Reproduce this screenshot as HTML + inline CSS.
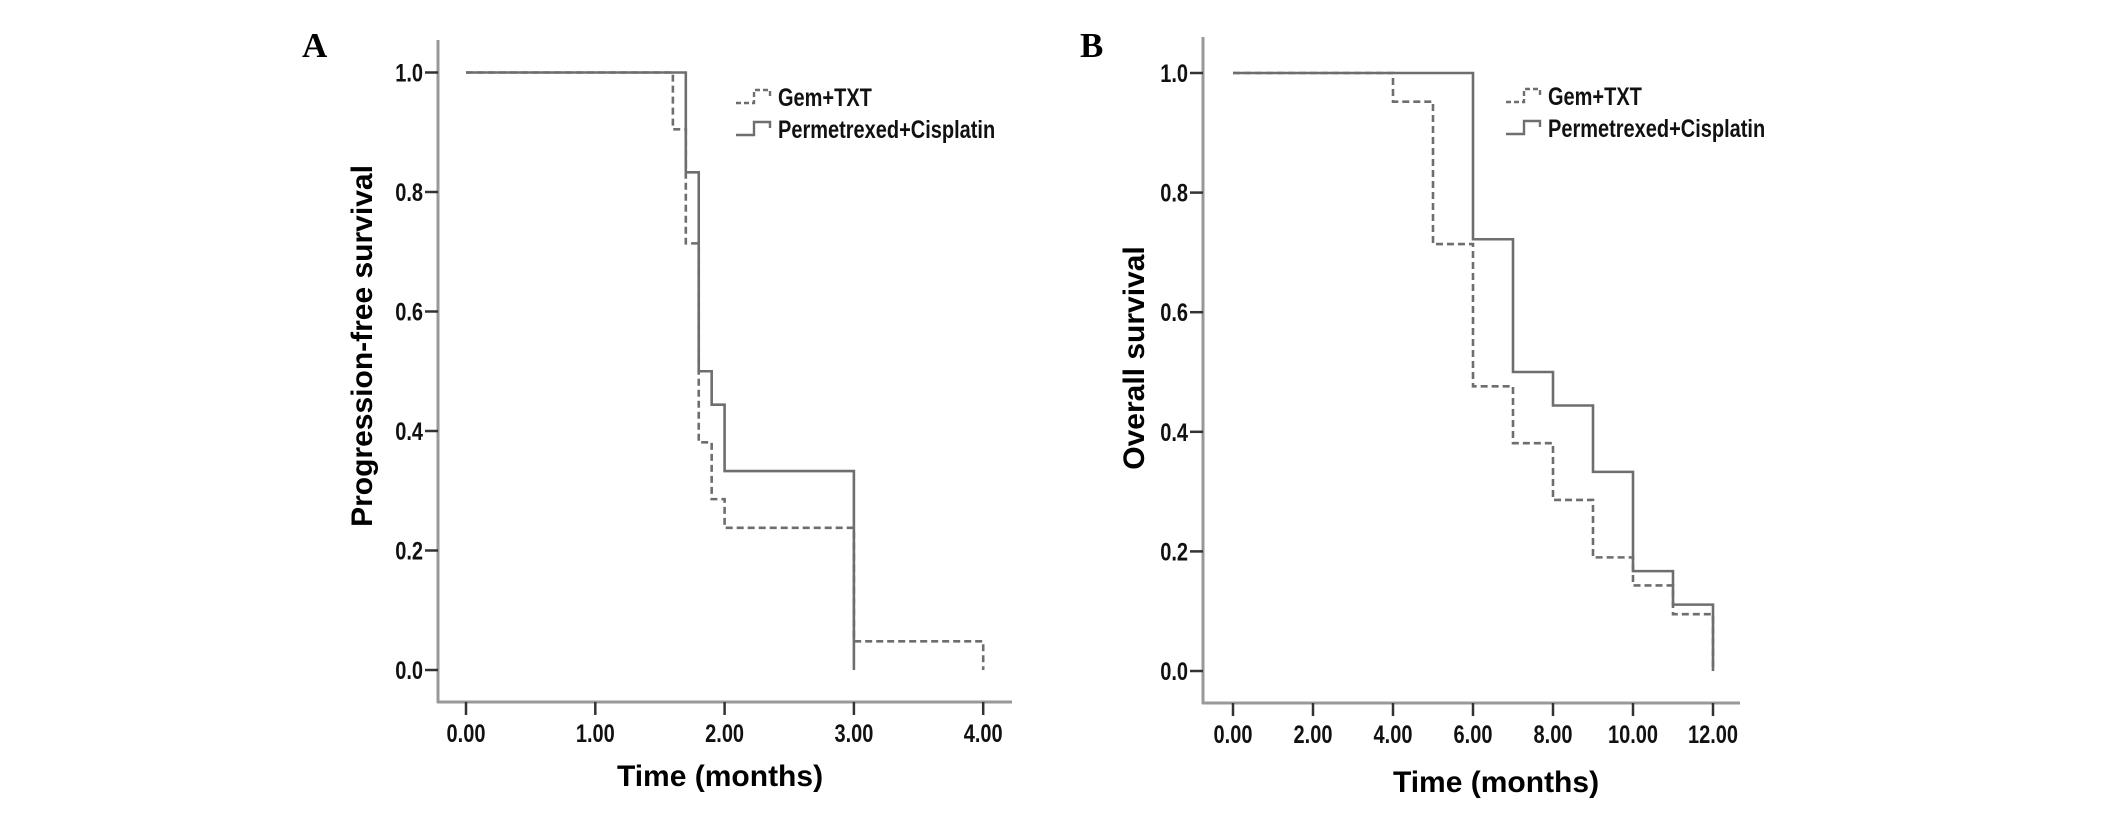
<!DOCTYPE html>
<html><head><meta charset="utf-8"><style>
html,body{margin:0;padding:0;background:#fff;}
svg{display:block;}
</style></head><body>
<svg id="chart" width="2126" height="814" viewBox="0 0 2126 814" xmlns="http://www.w3.org/2000/svg">
<rect width="2126" height="814" fill="#fff"/>
<text x="302" y="57" font-family="Liberation Serif, serif" font-weight="bold" font-size="35">A</text>
<text x="1080" y="57" font-family="Liberation Serif, serif" font-weight="bold" font-size="35">B</text>
<text transform="translate(372,346) rotate(-90)" text-anchor="middle" font-family="Liberation Sans, sans-serif" font-weight="bold" font-size="30">Progression-free survival</text>
<text transform="translate(1144,358) rotate(-90)" text-anchor="middle" font-family="Liberation Sans, sans-serif" font-weight="bold" font-size="30">Overall survival</text>
<text x="720" y="786" text-anchor="middle" font-family="Liberation Sans, sans-serif" font-weight="bold" font-size="30">Time (months)</text>
<text x="1496" y="792" text-anchor="middle" font-family="Liberation Sans, sans-serif" font-weight="bold" font-size="30">Time (months)</text>
</svg>
<script>
// Panel A data (progression-free survival)
const aTicksX = [0, 1, 2, 3, 4];
const aTickLabelsX = ["0.00", "1.00", "2.00", "3.00", "4.00"];
const aGemTimes = [1.6, 1.7, 1.8, 1.9, 2.0, 3.0, 4.0];
const aGemSurv = [0.905, 0.714, 0.381, 0.286, 0.238, 0.048, 0.0];
const aPemTimes = [1.7, 1.8, 1.9, 2.0, 3.0];
const aPemSurv = [0.833, 0.5, 0.444, 0.333, 0.0];
// Panel B data (overall survival)
const bTicksX = [0, 2, 4, 6, 8, 10, 12];
const bTickLabelsX = ["0.00", "2.00", "4.00", "6.00", "8.00", "10.00", "12.00"];
const bGemTimes = [4, 5, 6, 7, 8, 9, 10, 11, 12];
const bGemSurv = [0.952, 0.714, 0.476, 0.381, 0.286, 0.19, 0.143, 0.095, 0.0];
const bPemTimes = [6, 7, 8, 9, 10, 11, 12];
const bPemSurv = [0.722, 0.5, 0.444, 0.333, 0.167, 0.111, 0.0];
const yTicks = [0, 0.2, 0.4, 0.6, 0.8, 1.0];
const yTickLabels = ["0.0", "0.2", "0.4", "0.6", "0.8", "1.0"];
const legendLabels = ["Gem+TXT", "Permetrexed+Cisplatin"];

const NS = "http://www.w3.org/2000/svg";
const svg = document.getElementById("chart");
function mk(tag, attrs) {
  const e = document.createElementNS(NS, tag);
  for (const k in attrs) e.setAttribute(k, attrs[k]);
  svg.appendChild(e);
  return e;
}
function ctext(x, y, s, anchor, name) {
  const t = mk("text", {transform: "translate(" + x + "," + y + ") scale(0.8,1)", "text-anchor": anchor,
    "font-family": "Liberation Sans, sans-serif", "font-weight": "bold", "font-size": "25", fill: "#111"});
  t.textContent = s;
  
  
  return t;
}

function panel(p, cfg) {
  const xs = t => cfg.x0 + (t - cfg.tmin) * cfg.pxPer;
  const ys = v => cfg.y0 - v * cfg.yPer;
  const AX = "#999";
  let e = mk("line", {x1: cfg.axX, y1: cfg.axTop, x2: cfg.axX, y2: cfg.axY + 1, stroke: AX, "stroke-width": 3});
  
  
  e = mk("line", {x1: cfg.axX - 1, y1: cfg.axY, x2: cfg.axRight, y2: cfg.axY, stroke: AX, "stroke-width": 3});
  
  
  yTicks.forEach((v, i) => {
    const l = mk("line", {x1: cfg.axX - 13, y1: ys(v), x2: cfg.axX, y2: ys(v), stroke: "#333", "stroke-width": 2.5});
    
    
    ctext(cfg.axX - 15, ys(v) + 9, yTickLabels[i], "end", "y-tick-label-" + p);
  });
  cfg.ticks.forEach((t, i) => {
    const l = mk("line", {x1: xs(t), y1: cfg.axY, x2: xs(t), y2: cfg.axY + 13, stroke: "#333", "stroke-width": 2.5});
    
    
    ctext(xs(t), cfg.axY + 40, cfg.labels[i], "middle", "x-tick-label-" + p);
  });
  function curve(times, surv, dashed, name) {
    let d = "M" + xs(0) + "," + ys(1);
    let prev = 1;
    times.forEach((t, i) => {
      d += " H" + xs(t) + " V" + ys(surv[i]);
      prev = surv[i];
    });
    const attrs = {d: d, fill: "none", stroke: "#6e6e6e", "stroke-width": 2.6};
    if (dashed) attrs["stroke-dasharray"] = "7,4";
    const c = mk("path", attrs);
    
    
  }
  curve(cfg.pemT, cfg.pemS, false, "curve-permetrexed-cisplatin-" + p);
  curve(cfg.gemT, cfg.gemS, true, "curve-gem-txt-" + p);
  // legend
  [0, 1].forEach(i => {
    const lx = cfg.legX, ly = cfg.legY + i * 32;
    const d = "M" + lx + "," + (ly + 6) + " H" + (lx + 18) + " V" + (ly - 7) + " H" + (lx + 34) + " V" + (ly - 1);
    const attrs = {d: d, fill: "none", stroke: "#6e6e6e", "stroke-width": 2.4};
    if (i === 0) attrs["stroke-dasharray"] = "5,3";
    const ic = mk("path", attrs);
    
    
    ctext(lx + 42, ly + 9, legendLabels[i], "start", "legend-entry-" + p);
  });
}

panel("a", {x0: 466, tmin: 0, pxPer: 129.3, y0: 670, yPer: 597.5, axX: 438, axTop: 40, axY: 702, axRight: 1012,
  ticks: aTicksX, labels: aTickLabelsX, gemT: aGemTimes, gemS: aGemSurv, pemT: aPemTimes, pemS: aPemSurv,
  legX: 736, legY: 97});
panel("b", {x0: 1233, tmin: 0, pxPer: 40, y0: 671, yPer: 598, axX: 1203, axTop: 37, axY: 703, axRight: 1740,
  ticks: bTicksX, labels: bTickLabelsX, gemT: bGemTimes, gemS: bGemSurv, pemT: bPemTimes, pemS: bPemSurv,
  legX: 1506, legY: 96});
</script>
</body></html>
